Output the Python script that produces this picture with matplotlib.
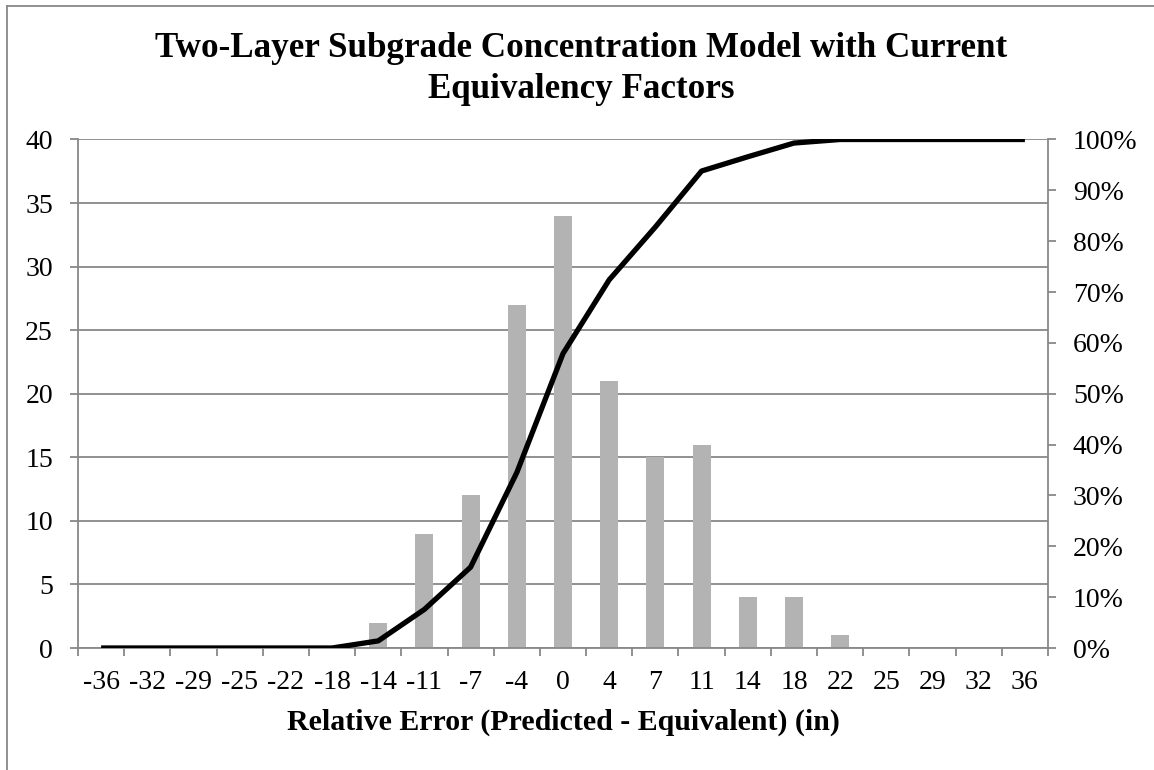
"""
Histogram of relative error with cumulative percentage line
"""

import matplotlib.pyplot as plt
from matplotlib.lines import Line2D
from matplotlib.ticker import FuncFormatter, MultipleLocator
import numpy as np

# Data
bins = ['-36', '-32', '-29', '-25', '-22', '-18', '-14', '-11', '-7', '-4', '0',
        '4', '7', '11', '14', '18', '22', '25', '29', '32', '36']
counts = [0, 0, 0, 0, 0, 0, 2, 9, 12, 27, 34, 21, 15, 16, 4, 4, 1, 0, 0, 0, 0]
cumulative = [0, 0, 0, 0, 0, 0, 0.014, 0.076, 0.159, 0.345, 0.579, 0.724, 0.828,
              0.938, 0.966, 0.993, 1.0, 1.0, 1.0, 1.0, 1.0]

plt.rcParams['font.family'] = ['Liberation Serif', 'DejaVu Serif']

axis_gray = '#888888'
bar_gray = '#b3b3b3'
tick_size = 20

fig = plt.figure(figsize=(11.54, 7.70), dpi=100)
ax = fig.add_axes([78 / 1154, 1 - 648 / 770, 970 / 1154, 508.5 / 770])

x = np.arange(len(bins))

# Bars (left axis)
ax.bar(x, counts, width=0.39, color=bar_gray, zorder=2)
ax.set_xlim(-0.5, len(bins) - 0.5)
ax.set_ylim(0, 40)
ax.yaxis.set_major_locator(MultipleLocator(5))
ax.grid(True, axis='y', color=axis_gray, linewidth=1.3, zorder=0)
ax.set_axisbelow(True)

# Category labels at centers, tick marks between categories
ax.set_xticks(x)
ax.set_xticklabels(bins)
ax.set_xticks(np.arange(-0.5, len(bins), 1), minor=True)
ax.tick_params(axis='x', which='major', length=0, pad=16, labelsize=tick_size)
ax.tick_params(axis='x', which='minor', length=6, width=1.3, color=axis_gray)
ax.tick_params(axis='y', which='major', length=6, width=1.3, color=axis_gray,
               pad=12, labelsize=tick_size)

for side in ['top', 'right']:
    ax.spines[side].set_visible(False)
for side in ['left', 'bottom']:
    ax.spines[side].set_color(axis_gray)
    ax.spines[side].set_linewidth(1.3)

ax.set_xlabel('Relative Error (Predicted - Equivalent) (in)', fontsize=21.5,
              fontweight='bold', labelpad=10)

# Cumulative line (right axis)
ax2 = ax.twinx()
ax2.plot(x, cumulative, color='black', linewidth=3.8, solid_capstyle='butt', zorder=3)
ax2.set_ylim(0, 1)
ax2.yaxis.set_major_locator(MultipleLocator(0.1))
ax2.yaxis.set_major_formatter(FuncFormatter(lambda v, p: f'{v * 100:.0f}%'))
ax2.tick_params(axis='y', length=6, width=1.3, color=axis_gray, pad=12, labelsize=tick_size)
for side in ['top', 'left', 'bottom']:
    ax2.spines[side].set_visible(False)
ax2.spines['right'].set_color(axis_gray)
ax2.spines['right'].set_linewidth(1.3)

# Title, two lines
fig.text(581 / 1154, 1 - 57 / 770, 'Two-Layer Subgrade Concentration Model with Current',
         ha='center', va='baseline', fontsize=25.2, fontweight='bold')
fig.text(581 / 1154, 1 - 98 / 770, 'Equivalency Factors',
         ha='center', va='baseline', fontsize=25.2, fontweight='bold')

# Chart border (left and top edges visible)
x0, y0 = 7 / 1154, 1 - 6 / 770
fig.add_artist(Line2D([x0, x0], [0, y0], transform=fig.transFigure, color=axis_gray, linewidth=1.3))
fig.add_artist(Line2D([x0, 1], [y0, y0], transform=fig.transFigure, color=axis_gray, linewidth=1.3))

plt.savefig('out.png', dpi=100)
plt.close()
